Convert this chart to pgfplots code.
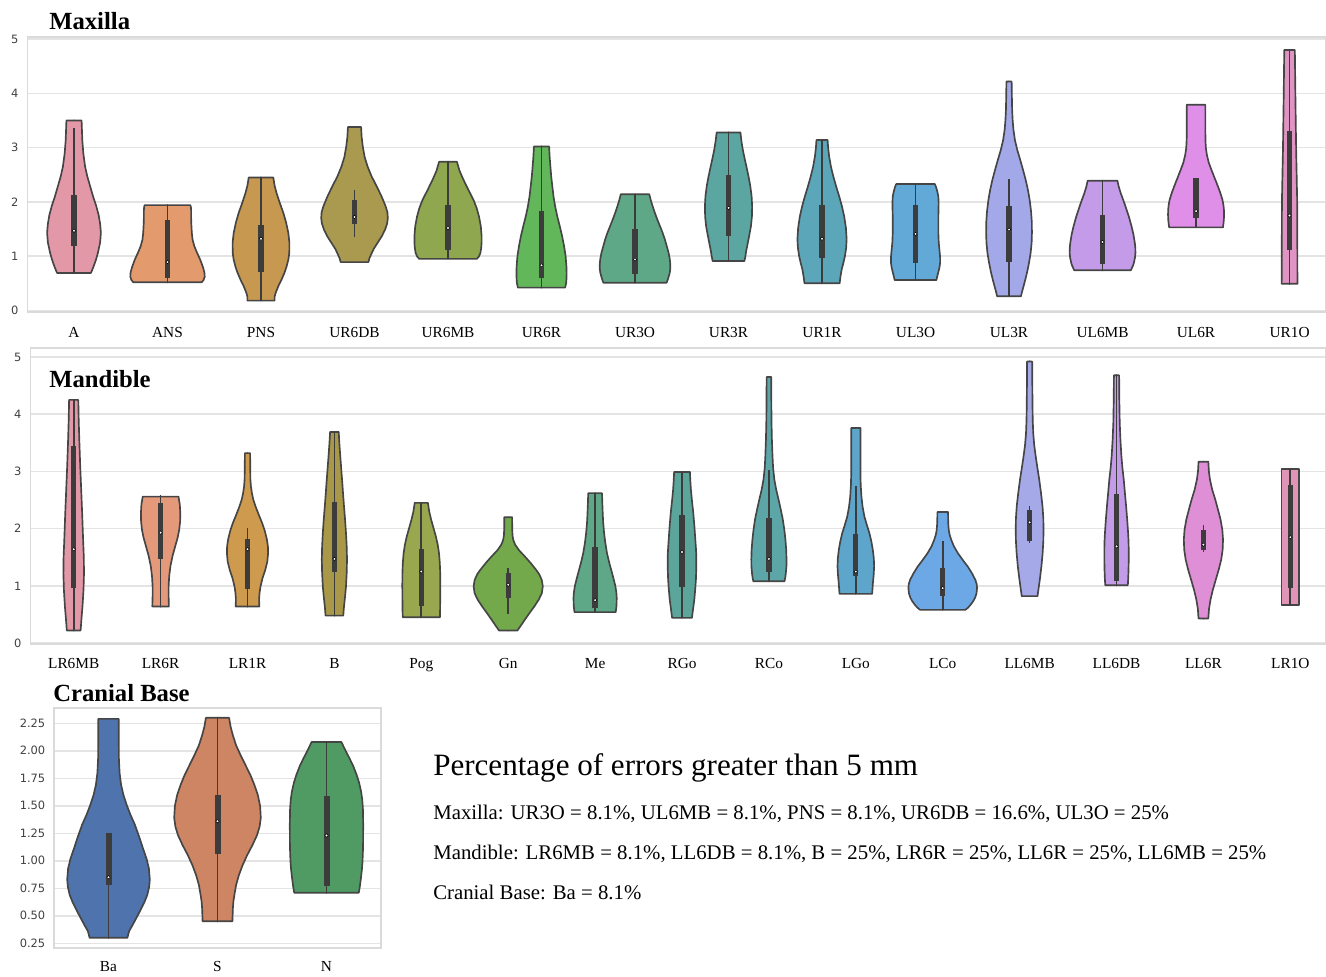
\documentclass[border=0pt]{standalone}
\usepackage{fontspec}
\setmainfont{Liberation Serif}
\setsansfont{DejaVu Sans}
\usepackage{pgfplots}
\pgfplotsset{compat=1.18}
\newlength\px \setlength\px{0.75pt}
\definecolor{vedge}{HTML}{454545}
\definecolor{vbox}{HTML}{3C3C3C}
\definecolor{gridc}{HTML}{E4E4E4}
\definecolor{spinec}{HTML}{DADADA}
\definecolor{tickc}{HTML}{404040}
% Maxilla
\definecolor{mA}{HTML}{E398A8}
\definecolor{mANS}{HTML}{E39B6E}
\definecolor{mPNS}{HTML}{C79850}
\definecolor{mURsDB}{HTML}{A99A50}
\definecolor{mURsMB}{HTML}{8FA84F}
\definecolor{mURsR}{HTML}{62B75A}
\definecolor{mURtO}{HTML}{5FA887}
\definecolor{mURtR}{HTML}{5BA6A0}
\definecolor{mURoR}{HTML}{5BA6B8}
\definecolor{mULtO}{HTML}{63A9D8}
\definecolor{mULtR}{HTML}{A3A9E8}
\definecolor{mULsMB}{HTML}{C39BE8}
\definecolor{mULsR}{HTML}{DF8FE8}
\definecolor{mURoO}{HTML}{E094C3}
% Mandible
\definecolor{dA}{HTML}{E398A8}
\definecolor{dB}{HTML}{E3997A}
\definecolor{dC}{HTML}{CE9A4E}
\definecolor{dD}{HTML}{A99848}
\definecolor{dE}{HTML}{99A84E}
\definecolor{dF}{HTML}{73A84B}
\definecolor{dG}{HTML}{5FA887}
\definecolor{dH}{HTML}{5CA59B}
\definecolor{dI}{HTML}{5CA6A8}
\definecolor{dJ}{HTML}{5DA5CA}
\definecolor{dK}{HTML}{6DA8E6}
\definecolor{dL}{HTML}{A6A9E8}
\definecolor{dM}{HTML}{C49BE8}
\definecolor{dN}{HTML}{DF8FD6}
\definecolor{dO}{HTML}{E094B8}
% Cranial
\definecolor{cBa}{HTML}{4E73AD}
\definecolor{cS}{HTML}{CD8563}
\definecolor{cN}{HTML}{4F9B63}

% #1 centre, #2 colour, #3 profile (y, half width in px; w=0 rows close the shape on the centre line),
% #4 lower whisker, #5 q1, #6 median, #7 q3, #8 upper whisker
\newcommand{\violin}[8]{%
  \addplot[fill=#2, draw=vedge, line width=1.25pt, line join=round] table[row sep=\\, x expr={#1+(\thisrow{w}-0.4)/\pxu}, y=y] {#3};
  \addplot[fill=#2, draw=vedge, line width=1.25pt, line join=round] table[row sep=\\, x expr={#1-(\thisrow{w}-0.4)/\pxu}, y=y] {#3};
  \addplot[draw=vbox, line width=1.3pt] coordinates {(#1,#4) (#1,#8)};
  \addplot[draw=vbox, line width=\bw] coordinates {(#1,#5) (#1,#7)};
  \addplot[only marks, mark=*, mark size=1.3pt, mark options={fill=white, draw=none}] coordinates {(#1,#6)};
}

\pgfplotsset{violinaxis/.style={
  scale only axis,
  axis line style={draw=spinec, line width=1.1pt},
  ymajorgrids, grid style={draw=gridc, line width=1.1pt},
  major tick length=0pt,
  /pgf/number format/assume math mode=true,
  yticklabel style={font=\fontsize{8.6}{10}\sffamily, text=tickc, xshift=-4\px},
  xticklabel style={font=\fontsize{11.5}{13}\selectfont, text=black, yshift=-11\px},
  clip=false,
}}

\begin{document}
\begin{tikzpicture}
\useasboundingbox (0,0) rectangle (1326\px,-976\px);

% ---------------- Maxilla
\def\pxu{93.5}\def\bw{4pt}
\begin{axis}[violinaxis, at={(27.25\px,-312\px)}, anchor=south west,
  width=1298.75\px, height=275\px, xmin=-0.5, xmax=13.39, ymin=-0.03, ymax=5.04,
  ytick={0,1,2,3,4,5}, xtick={0,...,13},
  xticklabels={A,ANS,PNS,UR6DB,UR6MB,UR6R,UR3O,UR3R,UR1R,UL3O,UL3R,UL6MB,UL6R,UR1O}]
\violin{0}{mA}{y w\\0.69 0\\0.69 17.3\\0.75 18.7\\0.81 20\\0.93 22.3\\1.06 24.3\\1.25 26.5\\1.43 27.3\\1.60 26.5\\1.76 25\\1.92 22.7\\2.10 19.5\\2.29 16.5\\2.47 13.7\\2.65 11.5\\2.90 9.7\\3.14 8.7\\3.50 8\\3.50 0\\}{0.69}{1.18}{1.47}{2.13}{3.37}
\violin{1}{mANS}{y w\\0.52 0\\0.52 34.7\\0.56 36.5\\0.62 37.6\\0.70 37.3\\0.80 35.8\\0.94 33\\1.06 30\\1.18 27.3\\1.30 25.5\\1.43 24.7\\1.60 24.2\\1.73 24\\1.85 24\\1.90 23.8\\1.94 23.3\\1.94 0\\}{0.52}{0.60}{0.89}{1.67}{1.94}
\violin{2}{mPNS}{y w\\0.18 0\\0.18 14\\0.25 14\\0.32 15\\0.45 17.8\\0.57 21\\0.69 23.8\\0.81 26\\0.94 27.8\\1.06 28.7\\1.25 28.8\\1.43 27.7\\1.62 25.5\\1.80 22.7\\1.98 19.2\\2.16 16\\2.30 14\\2.45 12.7\\2.45 0\\}{0.18}{0.70}{1.32}{1.58}{2.45}
\violin{3}{mURsDB}{y w\\0.89 0\\0.89 14.3\\0.96 15.3\\1.03 17\\1.13 19.5\\1.24 23.3\\1.37 27.8\\1.49 31\\1.60 33\\1.70 33.7\\1.81 33.3\\1.92 31.5\\2.10 27.5\\2.29 22.5\\2.47 17.5\\2.65 13.5\\2.83 10.5\\3.02 8.7\\3.20 7.5\\3.38 7\\3.38 0\\}{1.35}{1.60}{1.72}{2.04}{2.22}
\violin{4}{mURsMB}{y w\\0.95 0\\0.95 29.3\\1.00 31.5\\1.06 32.8\\1.15 33.6\\1.26 34\\1.37 34\\1.55 33.2\\1.73 31.4\\1.89 29\\2.04 25.8\\2.22 20.8\\2.41 15.8\\2.57 12\\2.74 9.3\\2.74 0\\}{0.95}{1.11}{1.52}{1.95}{2.74}
\violin{5}{mURsR}{y w\\0.42 0\\0.42 24\\0.50 25\\0.57 25.3\\0.69 25.5\\0.81 25.3\\1.00 24.5\\1.18 23\\1.37 21\\1.55 18.7\\1.73 16.2\\1.92 14\\2.10 12.4\\2.29 11.2\\2.47 10.1\\2.65 9.3\\2.84 8.5\\3.02 8\\3.02 0\\}{0.42}{0.60}{0.83}{1.84}{3.02}
\violin{6}{mURtO}{y w\\0.51 0\\0.51 32\\0.57 33.2\\0.63 34.2\\0.70 35.2\\0.78 35.7\\0.86 35.6\\0.94 35.2\\1.06 34\\1.18 32.2\\1.31 30.2\\1.43 28\\1.55 25.4\\1.67 22.8\\1.80 20.2\\1.92 18\\2.03 16.2\\2.14 14.7\\2.14 0\\}{0.51}{0.68}{0.94}{1.50}{2.14}
\violin{7}{mURtR}{y w\\0.91 0\\0.91 16.3\\1.00 17.3\\1.09 18\\1.18 19\\1.37 21\\1.55 22.8\\1.73 23.8\\1.92 24\\2.10 23.5\\2.29 22.2\\2.47 20.4\\2.65 18.3\\2.80 16.5\\2.96 14.7\\3.12 13.3\\3.28 12.3\\3.28 0\\}{0.91}{1.37}{1.89}{2.50}{3.28}
\violin{8}{mURoR}{y w\\0.50 0\\0.50 18\\0.62 18.8\\0.75 20\\0.88 21.8\\1.00 23.3\\1.15 24.5\\1.31 25\\1.52 24.3\\1.73 22.6\\1.92 20.3\\2.10 17.6\\2.28 14.6\\2.47 11.7\\2.65 9.3\\2.84 7.5\\3.00 6.5\\3.14 6\\3.14 0\\}{0.50}{0.97}{1.32}{1.95}{3.14}
\violin{9}{mULtO}{y w\\0.56 0\\0.56 21.3\\0.62 22\\0.69 23\\0.79 24.3\\0.88 25\\0.97 25\\1.06 24.6\\1.25 23.6\\1.43 23.2\\1.70 23.2\\1.98 23.5\\2.10 23.2\\2.19 22.2\\2.27 21\\2.33 19.7\\2.33 0\\}{0.56}{0.88}{1.41}{1.95}{2.33}
\violin{10}{mULtR}{y w\\0.26 0\\0.26 12.3\\0.35 13.5\\0.45 15\\0.57 16.7\\0.69 18.3\\0.88 20.4\\1.06 22\\1.25 23\\1.43 23.3\\1.62 23.2\\1.83 22.4\\2.04 21\\2.22 19.3\\2.41 17\\2.59 14.4\\2.78 11.5\\2.96 8.6\\3.14 6.3\\3.33 4.8\\3.51 4\\3.70 3.5\\3.88 3.3\\4.22 3\\4.22 0\\}{0.26}{0.89}{1.49}{1.92}{2.42}
\violin{11}{mULsMB}{y w\\0.74 0\\0.74 28.7\\0.81 30.5\\0.88 31.8\\0.97 32.8\\1.06 33.3\\1.15 33.2\\1.24 32.7\\1.40 31.3\\1.55 29.4\\1.73 26.7\\1.92 23.3\\2.04 21\\2.16 18.6\\2.28 16.6\\2.39 15.3\\2.39 0\\}{0.74}{0.85}{1.26}{1.75}{2.39}
\violin{12}{mULsR}{y w\\1.53 0\\1.53 27.3\\1.60 27.8\\1.67 28.2\\1.76 28.4\\1.85 28.3\\1.94 27.8\\2.04 26.8\\2.16 24.8\\2.29 22.2\\2.44 19\\2.59 15.8\\2.73 13\\2.87 11.2\\3.00 10.2\\3.14 9.8\\3.40 9.7\\3.79 9.7\\3.79 0\\}{1.53}{1.70}{1.83}{2.44}{2.44}
\violin{13}{mURoO}{y w\\0.49 0\\0.49 8.3\\2.04 8\\2.96 7\\3.88 6.3\\4.80 5.7\\4.80 0\\}{0.49}{1.12}{1.75}{3.30}{4.80}
\end{axis}

% ---------------- Mandible
\def\pxu{86.9}\def\bw{4pt}
\begin{axis}[violinaxis, at={(30.25\px,-644\px)}, anchor=south west,
  width=1295.7\px, height=296\px, xmin=-0.5, xmax=14.41, ymin=-0.017, ymax=5.157,
  ytick={0,1,2,3,4,5}, xtick={0,...,14},
  xticklabel style={yshift=1\px},
  xticklabels={LR6MB,LR6R,LR1R,B,Pog,Gn,Me,RGo,RCo,LGo,LCo,LL6MB,LL6DB,LL6R,LR1O}]
\violin{0}{dA}{y w\\0.22 0\\0.22 7.3\\0.43 8.2\\0.64 9.2\\0.93 10.2\\1.22 10.7\\1.51 10.5\\1.81 9.8\\2.25 8.9\\2.68 7.9\\3.10 6.9\\3.55 6\\3.90 5.4\\4.25 5\\4.25 0\\}{0.22}{0.96}{1.64}{3.45}{4.25}
\violin{1}{dB}{y w\\0.64 0\\0.64 8.7\\0.82 8.4\\0.99 8.4\\1.17 9\\1.34 10.2\\1.52 12.3\\1.69 15\\1.84 17.4\\1.98 19\\2.12 19.9\\2.27 20.1\\2.42 19.6\\2.56 18.3\\2.56 0\\}{0.64}{1.47}{1.93}{2.44}{2.59}
\violin{2}{dC}{y w\\0.64 0\\0.64 12.3\\0.70 12.1\\0.76 12\\0.87 12.4\\0.99 13.4\\1.14 15.5\\1.28 18.2\\1.42 20.2\\1.57 21\\1.69 20.8\\1.81 19.8\\1.96 17.7\\2.10 15\\2.25 11.5\\2.39 8.4\\2.50 6.3\\2.62 4.8\\2.74 3.8\\2.86 3.3\\3.32 3\\3.32 0\\}{0.64}{0.94}{1.64}{1.81}{2.01}
\violin{3}{dD}{y w\\0.48 0\\0.48 9.3\\0.56 9.6\\0.64 10\\0.82 11.1\\0.99 12\\1.23 12.7\\1.46 13\\1.69 12.7\\1.92 12\\2.15 11.1\\2.39 10\\2.60 9.1\\2.80 8.3\\3.03 7.3\\3.26 6.3\\3.48 5.4\\3.69 4.7\\3.69 0\\}{0.48}{1.24}{1.47}{2.46}{3.69}
\violin{4}{dE}{y w\\0.45 0\\0.45 19\\0.60 19.2\\0.76 19.3\\1.00 19.4\\1.22 19.3\\1.40 18.9\\1.57 18.1\\1.72 16.8\\1.86 15\\2.01 12.6\\2.16 10.2\\2.30 8.3\\2.45 7\\2.45 0\\}{0.45}{0.64}{1.25}{1.64}{2.45}
\violin{5}{dF}{y w\\0.22 0\\0.22 9.7\\0.27 11.6\\0.32 13.6\\0.42 17.5\\0.52 21.5\\0.64 26.5\\0.76 31\\0.87 34\\0.99 35\\1.10 34\\1.20 31.5\\1.28 28.3\\1.40 22.8\\1.52 16.7\\1.62 11.3\\1.72 7.3\\1.80 5.5\\1.88 4.7\\2.00 4.4\\2.20 4.3\\2.20 0\\}{0.50}{0.79}{1.02}{1.22}{1.31}
\violin{6}{dG}{y w\\0.54 0\\0.54 21\\0.65 21.8\\0.79 22\\0.89 21.6\\0.99 20.7\\1.10 19.2\\1.22 17.4\\1.40 14.6\\1.57 12.3\\1.75 10.6\\1.92 9.4\\2.10 8.5\\2.27 8\\2.45 7.6\\2.62 7.3\\2.62 0\\}{0.54}{0.61}{0.75}{1.68}{2.62}
\violin{7}{dH}{y w\\0.44 0\\0.44 10.3\\0.60 11.5\\0.76 12.7\\0.94 13.6\\1.11 14.3\\1.32 14.7\\1.52 14.7\\1.66 14.3\\1.81 13.7\\2.04 12.8\\2.27 11.7\\2.48 10.4\\2.68 9.3\\2.84 8.7\\2.99 8.3\\2.99 0\\}{0.44}{0.98}{1.59}{2.24}{2.99}
\violin{8}{dI}{y w\\1.08 0\\1.08 16\\1.15 16.8\\1.22 17.3\\1.34 17.9\\1.46 18\\1.63 17.7\\1.81 16.9\\1.98 15.8\\2.16 14.3\\2.33 12.3\\2.51 10\\2.68 7.7\\2.86 5.8\\3.06 4.6\\3.26 4\\3.55 3.4\\3.85 3\\4.25 2.8\\4.65 2.7\\4.65 0\\}{1.08}{1.25}{1.47}{2.19}{3.03}
\violin{9}{dJ}{y w\\0.86 0\\0.86 16.7\\0.95 17.1\\1.05 17.5\\1.20 18.3\\1.34 18.7\\1.48 18.4\\1.63 17.4\\1.77 16\\1.92 14\\2.06 11.5\\2.21 9\\2.38 7.2\\2.56 6\\2.76 5.3\\2.97 5\\3.76 5\\3.76 0\\}{0.86}{1.18}{1.25}{1.91}{2.75}
\violin{10}{dK}{y w\\0.58 0\\0.58 23\\0.62 25.8\\0.67 28.3\\0.73 30.8\\0.79 32.7\\0.87 34.2\\0.96 34.7\\1.03 34.4\\1.11 32.9\\1.22 29.6\\1.34 25.3\\1.45 20.5\\1.57 15.6\\1.69 11.6\\1.81 8.8\\1.90 7.2\\1.98 6.4\\2.10 5.9\\2.29 5.7\\2.29 0\\}{0.58}{0.83}{0.96}{1.31}{1.78}
\violin{11}{dL}{y w\\0.82 0\\0.82 8.3\\0.96 9.4\\1.11 10.6\\1.34 12.2\\1.57 13.4\\1.78 14.1\\1.98 14.3\\2.18 14.1\\2.39 13.3\\2.62 11.8\\2.86 10\\3.06 8.2\\3.26 6.5\\3.46 5\\3.67 4\\3.90 3.5\\4.14 3.3\\4.50 3.1\\4.92 3\\4.92 0\\}{1.75}{1.78}{2.11}{2.32}{2.39}
\violin{12}{dM}{y w\\1.01 0\\1.01 11.7\\1.14 12.1\\1.28 12.4\\1.45 12.6\\1.63 12.6\\1.78 12.4\\1.92 12\\2.15 11.1\\2.39 10\\2.62 8.8\\2.86 7.6\\3.06 6.3\\3.26 5.3\\3.55 4.3\\3.85 3.6\\4.25 3.2\\4.68 3\\4.68 0\\}{1.01}{1.08}{1.69}{2.61}{4.68}
\violin{13}{dN}{y w\\0.43 0\\0.43 5.3\\0.60 6\\0.76 7.5\\0.93 9.8\\1.11 12.8\\1.29 15.8\\1.46 18.2\\1.63 19.6\\1.81 20\\1.98 19.3\\2.16 17.5\\2.33 15\\2.51 12.2\\2.68 9.2\\2.86 6.9\\3.01 5.8\\3.17 5.3\\3.17 0\\}{1.60}{1.63}{1.72}{1.98}{2.07}
\violin{14}{dO}{y w\\0.67 0\\0.67 9.3\\3.04 9.3\\3.04 0\\}{0.67}{0.96}{1.85}{2.77}{3.04}
\end{axis}

% ---------------- Cranial Base
\def\pxu{109}\def\bw{4.5pt}
\begin{axis}[violinaxis, at={(54\px,-948\px)}, anchor=south west,
  width=327\px, height=240\px, xmin=-0.5, xmax=2.5, ymin=0.207, ymax=2.389,
  ytick={0.25,0.5,0.75,1,1.25,1.5,1.75,2,2.25},
  yticklabel style={/pgf/number format/.cd, fixed, fixed zerofill, precision=2},
  xtick={0,1,2}, xticklabels={Ba,S,N},
  xticklabel style={yshift=2\px}]
\violin{0}{cBa}{y w\\0.30 0\\0.30 19.3\\0.36 21\\0.40 23.5\\0.45 26.5\\0.51 30\\0.57 33.3\\0.63 36.6\\0.69 39.2\\0.76 41\\0.83 41.7\\0.93 40.8\\1.02 38.4\\1.11 35\\1.22 31\\1.33 26.7\\1.42 22.3\\1.51 18.5\\1.60 15.3\\1.69 13\\1.80 11.5\\1.93 10.8\\2.10 10.7\\2.29 10.7\\2.29 0\\}{0.30}{0.78}{0.85}{1.25}{1.25}
\violin{1}{cS}{y w\\0.45 0\\0.45 15.3\\0.57 15.8\\0.63 16.3\\0.69 17.3\\0.78 19\\0.87 21.8\\0.96 25.5\\1.05 30\\1.14 35.2\\1.23 39.8\\1.31 42.5\\1.39 43.7\\1.50 43\\1.60 40.7\\1.69 37.3\\1.78 33.3\\1.87 28.4\\1.96 23.5\\2.05 19\\2.14 15.8\\2.22 13.5\\2.30 12\\2.30 0\\}{0.45}{1.06}{1.36}{1.60}{2.30}
\violin{2}{cN}{y w\\0.71 0\\0.71 32.7\\0.77 33.8\\0.84 34.8\\0.92 35.8\\0.99 36.4\\1.08 36.8\\1.17 37\\1.33 37.1\\1.48 36.8\\1.56 36.1\\1.63 35\\1.71 33\\1.78 30.6\\1.86 27.2\\1.93 23.5\\2.00 19.5\\2.08 15.3\\2.08 0\\}{0.71}{0.77}{1.23}{1.59}{2.08}
\end{axis}

% ---------------- titles and text
\node[anchor=base west, inner sep=0pt, font=\fontsize{18.5}{22}\selectfont\bfseries] at (49\px,-29.5\px) {Maxilla};
\node[anchor=base west, inner sep=0pt, font=\fontsize{18.5}{22}\selectfont\bfseries] at (49\px,-387.7\px) {Mandible};
\node[anchor=base west, inner sep=0pt, font=\fontsize{18.5}{22}\selectfont\bfseries] at (53\px,-701.7\px) {Cranial Base};
\node[anchor=base west, inner sep=0pt, font=\fontsize{23.3}{27}\selectfont] at (433\px,-775\px) {Percentage of errors greater than 5 mm};
\node[anchor=base west, inner sep=0pt, font=\fontsize{15.6}{18}\selectfont] at (433\px,-819\px) {Maxilla: UR3O = 8.1\%, UL6MB = 8.1\%, PNS = 8.1\%, UR6DB = 16.6\%, UL3O = 25\%};
\node[anchor=base west, inner sep=0pt, font=\fontsize{15.6}{18}\selectfont] at (433\px,-859\px) {Mandible: LR6MB = 8.1\%, LL6DB = 8.1\%, B = 25\%, LR6R = 25\%, LL6R = 25\%, LL6MB = 25\%};
\node[anchor=base west, inner sep=0pt, font=\fontsize{15.6}{18}\selectfont] at (433\px,-899\px) {Cranial Base: Ba = 8.1\%};
\end{tikzpicture}
\end{document}
